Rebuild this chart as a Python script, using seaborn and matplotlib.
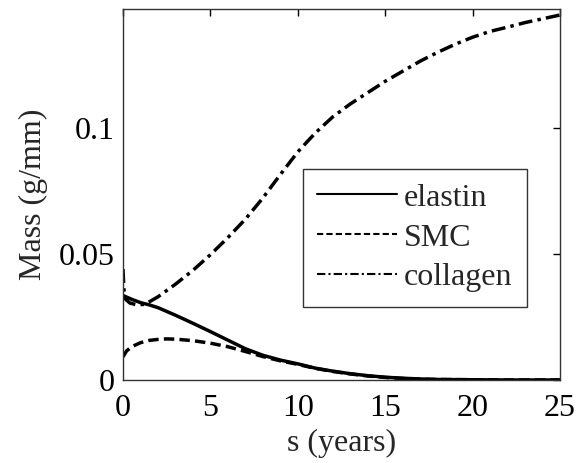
import numpy as np
import pandas as pd
import matplotlib
matplotlib.use("Agg")
import matplotlib.pyplot as plt
import seaborn as sns

# данные
s_elastin = [0, 0.5, 1, 1.5, 2, 3, 4, 5, 6, 7, 8, 9, 10, 11, 12, 13, 14, 15, 16, 17, 18, 20, 22, 25]
elastin = [0.0335, 0.0320, 0.0307, 0.0298, 0.0287, 0.0257, 0.0225, 0.0192, 0.0158, 0.0124, 0.0098,
           0.0079, 0.0064, 0.0047, 0.0035, 0.0025, 0.0017, 0.0011, 0.0007, 0.0004, 0.0002, 0.0001, 0.0, 0.0]

s_smc = [0, 0.2, 0.5, 1, 1.5, 2, 2.5, 3, 4, 5, 6, 7, 8, 9, 10, 11, 12, 13, 14, 15, 16, 17, 18, 20, 22, 25]
smc = [0.0092, 0.0115, 0.0132, 0.0148, 0.0157, 0.0161, 0.0163, 0.0162, 0.0156, 0.0146, 0.0132, 0.0113,
       0.0093, 0.0076, 0.0062, 0.0046, 0.0034, 0.0024, 0.0016, 0.0010, 0.0006, 0.0003, 0.0002, 0.0001, 0.0, 0.0]

s_collagen = [0, 0.05, 0.15, 0.4, 0.8, 1.2, 1.5, 2, 2.5, 3, 4, 5, 6, 7, 8, 9, 10, 11, 12, 13, 14, 15,
              16, 17, 18, 19, 20, 21, 22, 23, 24, 25]
collagen = [0.044, 0.036, 0.032, 0.0305, 0.0298, 0.0300, 0.0310, 0.0330, 0.0355, 0.0380, 0.0435, 0.0497,
            0.0565, 0.0638, 0.0722, 0.0815, 0.0905, 0.0980, 0.1044, 0.1095, 0.1140, 0.1185, 0.1225,
            0.1265, 0.1300, 0.1332, 0.1360, 0.1383, 0.1400, 0.1418, 0.1433, 0.1448]

x_ticks = [0, 5, 10, 15, 20, 25]
y_ticks = [0, 0.05, 0.1]
y_tick_labels = ["0", "0.05", "0.1"]

sns.set_style("white")
plt.rcParams["font.family"] = ["Liberation Serif", "DejaVu Serif"]

fig = plt.figure(figsize=(5.77, 4.63), dpi=100)
ax = fig.add_axes([0.2132, 0.1793, 0.7573, 0.8013])

sns.lineplot(x=s_elastin, y=elastin, ax=ax, color="black", lw=2.5, label="elastin")
sns.lineplot(x=s_smc, y=smc, ax=ax, color="black", lw=2.5, label="SMC", linestyle=(0, (3, 1.5)))
sns.lineplot(x=s_collagen, y=collagen, ax=ax, color="black", lw=2.5, label="collagen",
             linestyle=(0, (4, 1.5, 1, 1.5)))

ax.set_xlim(0, 25)
ax.set_ylim(0, 0.1472)
ax.set_xticks(x_ticks)
ax.set_yticks(y_ticks)
ax.set_yticklabels(y_tick_labels)
ax.tick_params(direction="in", length=5, width=1, labelsize=23, top=True, right=True,
               colors="black", pad=6)
ax.tick_params(axis="x", pad=10)
for sp in ax.spines.values():
    sp.set_color("#333333")
    sp.set_linewidth(1)
    sp.set_visible(True)

ax.set_xlabel("s (years)", fontsize=23, labelpad=4)
ax.set_ylabel("Mass (g/mm)", fontsize=23, labelpad=8)

leg = ax.legend(loc="upper left", bbox_to_anchor=(0.412, 0.569), borderaxespad=0, fontsize=23,
                frameon=True, fancybox=False, edgecolor="#333333", framealpha=1,
                handlelength=2.5, handletextpad=0.2, labelspacing=0.33, borderpad=0.45)
leg.get_frame().set_linewidth(1)
for line in leg.get_lines():
    line.set_linewidth(1.5)

fig.savefig("out.png", dpi=100)
